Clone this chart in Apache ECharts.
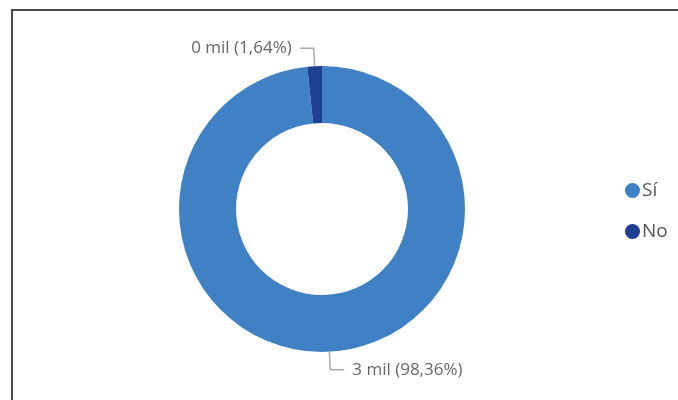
<!DOCTYPE html>
<html><head><meta charset="utf-8">
<script src="https://cdn.jsdelivr.net/npm/echarts@6/dist/echarts.min.js"></script>
<style>
html,body{margin:0;padding:0;background:#fff;}
#frame{position:absolute;left:11px;top:9px;width:700px;height:430px;border:2px solid #4a4a4a;box-sizing:border-box;}
#chart{position:absolute;left:0;top:0;width:678px;height:400px;}
</style></head>
<body>
<div id="frame"></div>
<div id="chart"></div>
<script>
const categories = ['Sí', 'No'];
const values = [3000, 50];
const colors = ['#3F81C4', '#1F3F92'];

const chart = echarts.init(document.getElementById('chart'));
chart.setOption({
  animation: false,
  legend: {
    orient: 'vertical',
    left: 620,
    top: 176,
    icon: 'circle',
    itemWidth: 15,
    itemHeight: 15,
    itemGap: 22,
    textStyle: { fontFamily: 'Open Sans, sans-serif', fontSize: 19, color: '#555', padding: [0, 0, 0, -3], lineHeight: 19 },
    data: categories
  },
  series: [{
    type: 'pie',
    center: [322, 209],
    radius: [86, 143],
    startAngle: 90,
    clockwise: true,
    avoidLabelOverlap: false,
    data: categories.map((c, i) => ({ name: c, value: values[i], itemStyle: { color: colors[i] } })),
    label: {
      show: true,
      fontFamily: 'Open Sans, sans-serif',
      fontSize: 17,
      color: '#666',
      distanceToLabelLine: 8,
      formatter: p => Math.round(p.value / 1000) + ' mil (' + p.percent.toFixed(2).replace('.', ',') + '%)'
    },
    percentPrecision: 2,
    labelLine: { show: true, length: 18, length2: 14, lineStyle: { color: '#aaa', width: 1.5 } },
    emphasis: { disabled: true }
  }]
});
</script>
</body></html>
